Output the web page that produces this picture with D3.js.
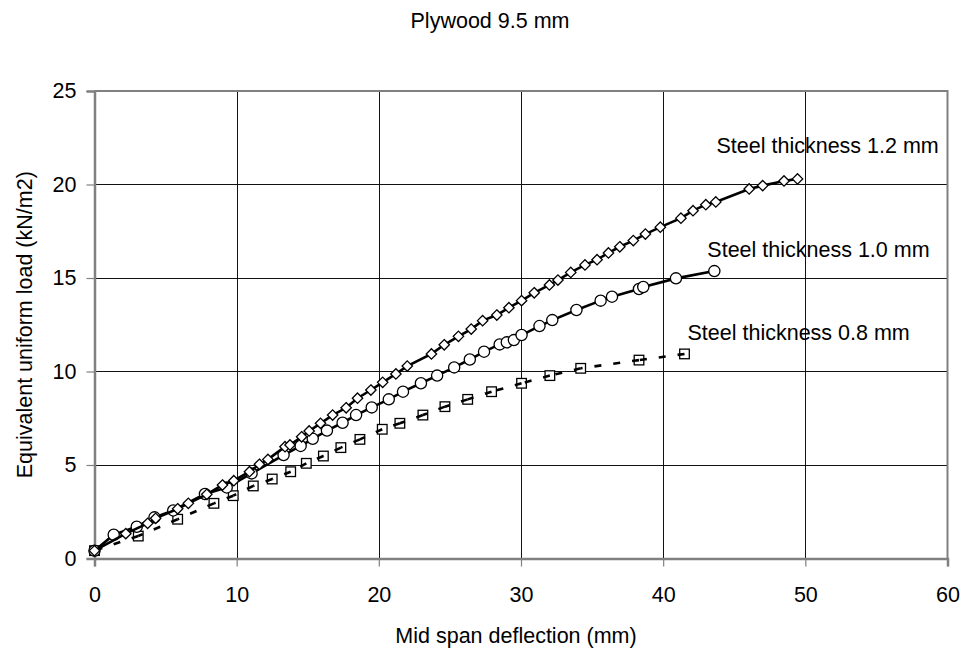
<!DOCTYPE html>
<html>
<head>
<meta charset="utf-8">
<script src="https://cdn.jsdelivr.net/npm/d3@7"></script>
<style>
  body { margin: 0; background: #fff; }
  svg { display: block; font-family: 'Liberation Sans', Arial, sans-serif; }
  .grid line { stroke: #111; stroke-width: 1; shape-rendering: crispEdges; }
  .axis path, .axis line { stroke: #808080; }
  .axis text { fill: #000; font-size: 21.5px; }
</style>
</head>
<body>
<script>
// values
var xTicks = [0, 10, 20, 30, 40, 50, 60];
var yTicks = [0, 5, 10, 15, 20, 25];

var steel12x = [0, 2.2, 3.74, 4.3, 5.85, 6.6, 7.9, 9.0, 9.8, 10.9, 11.6, 12.2, 13.4, 13.75, 14.57, 15.1,
  15.9, 16.75, 17.7, 18.5, 19.44, 20.27, 21.2, 22.0, 23.7, 24.6, 25.6, 26.5, 27.3, 28.3, 29.15, 30.04,
  30.93, 32.0, 32.6, 33.5, 34.5, 35.35, 36.15, 36.95, 37.9, 38.75, 39.8, 41.25, 42.1, 43.0, 43.7,
  46.05, 47.0, 48.5, 49.45];
var steel12y = [0.42, 1.33, 1.88, 2.15, 2.66, 2.95, 3.43, 3.93, 4.16, 4.64, 5.04, 5.3, 5.98, 6.07, 6.51, 6.82,
  7.23, 7.67, 8.06, 8.57, 9.01, 9.42, 9.87, 10.29, 10.94, 11.43, 11.88, 12.27, 12.72, 13.02, 13.41, 13.79,
  14.21, 14.63, 14.89, 15.3, 15.7, 15.98, 16.34, 16.67, 17.0, 17.35, 17.72, 18.2, 18.6, 18.92, 19.07,
  19.76, 19.94, 20.19, 20.3];

var steel10x = [0, 1.35, 2.97, 4.22, 5.54, 7.77, 9.3, 11.05, 13.3, 14.5, 15.35, 16.35, 17.45, 18.4, 19.5,
  20.7, 21.7, 22.96, 24.1, 25.3, 26.4, 27.4, 28.5, 29.0, 29.5, 30.04, 31.3, 32.2, 33.9, 35.6, 36.4,
  38.3, 38.6, 40.9, 43.6];
var steel10y = [0.42, 1.27, 1.7, 2.2, 2.57, 3.45, 3.8, 4.55, 5.53, 6.02, 6.4, 6.84, 7.26, 7.67, 8.08,
  8.51, 8.92, 9.37, 9.78, 10.22, 10.64, 11.06, 11.45, 11.56, 11.68, 11.95, 12.43, 12.75, 13.29, 13.79, 14.0,
  14.41, 14.52, 14.98, 15.37];

var steel08x = [0, 3.08, 5.85, 8.4, 9.76, 11.17, 12.5, 13.8, 14.9, 16.1, 17.33, 18.67, 20.24, 21.48,
  23.1, 24.65, 26.25, 27.93, 30.04, 32.03, 34.2, 38.3, 41.5];
var steel08y = [0.42, 1.2, 2.1, 2.95, 3.36, 3.88, 4.25, 4.64, 5.09, 5.48, 5.93, 6.37, 6.91, 7.23,
  7.67, 8.12, 8.51, 8.92, 9.37, 9.78, 10.17, 10.61, 10.94];

var seriesNames = ['Steel thickness 0.8 mm', 'Steel thickness 1.0 mm', 'Steel thickness 1.2 mm'];

var width = 966,
  height = 651,
  margin = { top: 91, right: 18.5, bottom: 92.5, left: 94.5 },
  svg = d3.select('body').append('svg')
    .attr('width', width)
    .attr('height', height);

var x = d3.scaleLinear().domain([0, 60]).range([margin.left, width - margin.right]);
var y = d3.scaleLinear().domain([0, 25]).range([height - margin.bottom, margin.top]);

function zip(xs, ys) {
  return xs.map(function (v, i) { return [v, ys[i]]; });
}

var series = [
  { name: seriesNames[0], pts: zip(steel08x, steel08y), marker: 'square', dashed: true, label: [3, -14] },
  { name: seriesNames[1], pts: zip(steel10x, steel10y), marker: 'circle', dashed: false, label: [-7, -14] },
  { name: seriesNames[2], pts: zip(steel12x, steel12y), marker: 'diamond', dashed: false, label: [-81, -26] }
];

// grid
var grid = svg.append('g').attr('class', 'grid');
grid.selectAll('.gx').data(xTicks.slice(1, -1)).enter().append('line')
  .attr('x1', function (d) { return Math.round(x(d)) + 0.5; })
  .attr('x2', function (d) { return Math.round(x(d)) + 0.5; })
  .attr('y1', y(25)).attr('y2', y(0));
grid.selectAll('.gy').data(yTicks.slice(1, -1)).enter().append('line')
  .attr('y1', function (d) { return Math.round(y(d)) + 0.5; })
  .attr('y2', function (d) { return Math.round(y(d)) + 0.5; })
  .attr('x1', x(0)).attr('x2', x(60));

// plot border (top / right)
svg.append('path')
  .attr('d', 'M' + x(0) + ',' + y(25) + 'H' + x(60) + 'V' + y(0))
  .attr('fill', 'none')
  .attr('stroke', '#808080')
  .attr('stroke-width', 2);

// axes
var xAxis = svg.append('g')
  .attr('class', 'axis')
  .attr('transform', 'translate(0,' + y(0) + ')')
  .call(d3.axisBottom(x).tickValues(xTicks).tickSize(8).tickPadding(20).tickFormat(d3.format('d')));
xAxis.select('.domain').attr('stroke-width', 2.5);

var yAxis = svg.append('g')
  .attr('class', 'axis')
  .attr('transform', 'translate(' + x(0) + ',0)')
  .call(d3.axisLeft(y).tickValues(yTicks).tickSize(8).tickPadding(10).tickFormat(d3.format('d')));
yAxis.select('.domain').attr('stroke-width', 2.5);

svg.selectAll('.axis text').attr('font-family', null);
svg.selectAll('.axis line').attr('stroke', '#555').attr('stroke-width', 1.2);

// series
var line = d3.line()
  .x(function (d) { return x(d[0]); })
  .y(function (d) { return y(d[1]); });

var diamond = 'M0,-5.2L5.2,0L0,5.2L-5.2,0Z';

series.forEach(function (s) {
  var g = svg.append('g');

  if (s.dashed) {
    // markers first, dashes restart at each point
    drawMarkers(g, s);
    var segs = d3.pairs(s.pts).map(function (p) { return [p[1], p[0]]; });
    g.selectAll('.seg').data(segs).enter().append('path')
      .attr('d', line)
      .attr('fill', 'none')
      .attr('stroke', '#000')
      .attr('stroke-width', 2.6)
      .attr('stroke-dasharray', '7,12');
  } else {
    g.append('path')
      .datum(s.pts)
      .attr('d', line)
      .attr('fill', 'none')
      .attr('stroke', '#000')
      .attr('stroke-width', 2.6);
    drawMarkers(g, s);
  }

  var last = s.pts[s.pts.length - 1];
  svg.append('text')
    .attr('x', x(last[0]) + s.label[0])
    .attr('y', y(last[1]) + s.label[1])
    .attr('font-size', '21.5px')
    .attr('fill', '#000')
    .text(s.name);
});

function drawMarkers(g, s) {
  var m = g.selectAll('.m').data(s.pts).enter();
  if (s.marker === 'circle') {
    m.append('circle')
      .attr('cx', function (d) { return x(d[0]); })
      .attr('cy', function (d) { return y(d[1]); })
      .attr('r', 5.6)
      .attr('fill', '#fff')
      .attr('stroke', '#000')
      .attr('stroke-width', 1.3);
  } else if (s.marker === 'square') {
    m.append('rect')
      .attr('x', function (d) { return x(d[0]) - 4.8; })
      .attr('y', function (d) { return y(d[1]) - 4.8; })
      .attr('width', 9.6)
      .attr('height', 9.6)
      .attr('fill', '#fff')
      .attr('stroke', '#000')
      .attr('stroke-width', 1.3);
  } else {
    m.append('path')
      .attr('d', diamond)
      .attr('transform', function (d) { return 'translate(' + x(d[0]) + ',' + y(d[1]) + ')'; })
      .attr('fill', '#fff')
      .attr('stroke', '#000')
      .attr('stroke-width', 1.3);
  }
}

// titles
svg.append('text')
  .attr('x', 490)
  .attr('y', 28)
  .attr('text-anchor', 'middle')
  .attr('font-size', '21.5px')
  .text('Plywood 9.5 mm');

svg.append('text')
  .attr('x', 516)
  .attr('y', 643)
  .attr('text-anchor', 'middle')
  .attr('font-size', '21.5px')
  .text('Mid span deflection (mm)');

svg.append('text')
  .attr('transform', 'translate(32,' + (y(0) + y(25)) / 2 + ') rotate(-90)')
  .attr('text-anchor', 'middle')
  .attr('font-size', '21.5px')
  .text('Equivalent uniform load (kN/m2)');
</script>
</body>
</html>
